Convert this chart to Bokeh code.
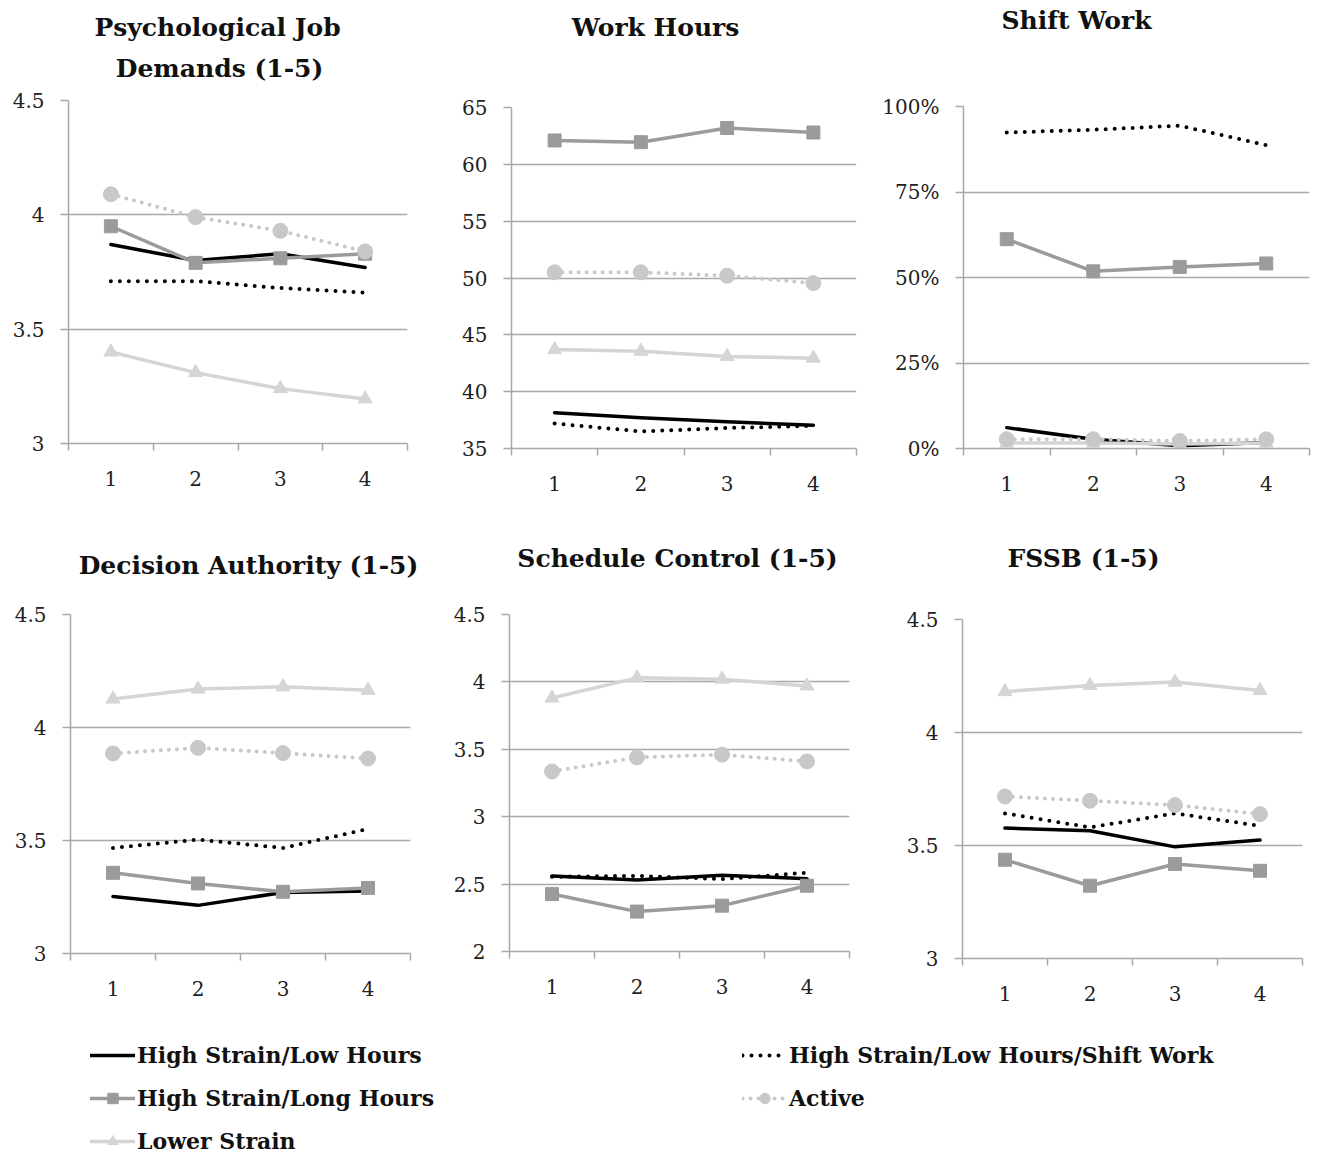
from bokeh.plotting import figure
from bokeh.layouts import column, row
from bokeh.models import (Range1d, FixedTicker, CustomJSTickFormatter, Label,
                          Legend, LegendItem)
from bokeh.embed import file_html
from bokeh.resources import INLINE

# ---------------- data ----------------
waves = [1, 2, 3, 4]
wave_boundaries = [0.5, 1.5, 2.5, 3.5, 4.5]

series_names = ["High Strain/Low Hours", "High Strain/Long Hours", "Lower Strain",
                "High Strain/Low Hours/Shift Work", "Active"]

# Psychological Job Demands (1-5)
pjd_low_hours = [3.87, 3.80, 3.83, 3.77]
pjd_long_hours = [3.95, 3.79, 3.81, 3.83]
pjd_lower_strain = [3.40, 3.31, 3.24, 3.195]
pjd_shift = [3.71, 3.71, 3.68, 3.66]
pjd_active = [4.09, 3.99, 3.93, 3.84]
pjd_ticks = [3, 3.5, 4, 4.5]

# Work Hours
wh_low_hours = [38.15, 37.7, 37.35, 37.05]
wh_long_hours = [62.1, 61.95, 63.2, 62.8]
wh_lower_strain = [43.7, 43.55, 43.1, 42.95]
wh_shift = [37.2, 36.5, 36.8, 37.0]
wh_active = [50.5, 50.5, 50.2, 49.55]
wh_ticks = [35, 40, 45, 50, 55, 60, 65]

# Shift Work (%)
sw_low_hours = [6.1, 2.7, 0.8, 1.75]
sw_long_hours = [61.2, 51.8, 53.1, 54.1]
sw_lower_strain = [1.6, 1.6, 1.3, 1.6]
sw_shift = [92.4, 93.2, 94.4, 88.7]
sw_active = [2.7, 2.7, 2.2, 2.7]
sw_ticks = [0, 25, 50, 75, 100]

# Decision Authority (1-5)
da_low_hours = [3.252, 3.213, 3.27, 3.277]
da_long_hours = [3.357, 3.31, 3.273, 3.29]
da_lower_strain = [4.126, 4.17, 4.18, 4.165]
da_shift = [3.467, 3.504, 3.467, 3.551]
da_active = [3.885, 3.91, 3.887, 3.863]
da_ticks = [3, 3.5, 4, 4.5]

# Schedule Control (1-5)
sc_low_hours = [2.561, 2.53, 2.566, 2.54]
sc_long_hours = [2.426, 2.296, 2.34, 2.488]
sc_lower_strain = [3.88, 4.03, 4.02, 3.97]
sc_shift = [2.554, 2.561, 2.537, 2.585]
sc_active = [3.336, 3.44, 3.46, 3.41]
sc_ticks = [2, 2.5, 3, 3.5, 4, 4.5]

# FSSB (1-5)
fs_low_hours = [3.577, 3.565, 3.494, 3.524]
fs_long_hours = [3.437, 3.322, 3.418, 3.388]
fs_lower_strain = [4.181, 4.208, 4.223, 4.186]
fs_shift = [3.642, 3.58, 3.642, 3.587]
fs_active = [3.717, 3.698, 3.679, 3.639]
fs_ticks = [3, 3.5, 4, 4.5]

# ---------------- styling ----------------
FONT = "DejaVu Serif"
GRID = "#a8a8a8"
TITLE_H = 90
STYLES = [
    dict(color="#000000", width=3.5, dash="solid", marker=None, msize=0),
    dict(color="#9b9b9b", width=3.5, dash="solid", marker="square", msize=13),
    dict(color="#d5d5d5", width=3.5, dash="solid", marker="triangle", msize=14),
    dict(color="#000000", width=4.0, dash="0 9", marker=None, msize=0),
    dict(color="#c8c8c8", width=4.0, dash="0 8", marker="circle", msize=15),
]


def draw_series(p, xs, ys, st):
    rs = [p.line(xs, ys, line_color=st["color"], line_width=st["width"],
                 line_dash=st["dash"], line_cap="round", line_join="round")]
    if st["marker"]:
        rs.append(p.scatter(xs, ys, marker=st["marker"], size=st["msize"],
                            fill_color=st["color"], line_color=st["color"]))
    return rs


def make_title_fig(width, lines):
    # blank strip whose data units equal pixels (y measured downward)
    t = figure(width=width, height=TITLE_H, x_range=Range1d(0, width),
               y_range=Range1d(TITLE_H, 0), toolbar_location=None,
               output_backend="svg", x_axis_location=None, y_axis_location=None,
               min_border=0, title=None)
    t.outline_line_color = None
    t.grid.visible = False
    for txt, tx, ty in lines:
        t.add_layout(Label(text=txt, x=tx, y=ty, text_align="center",
                           text_baseline="middle", text_font=FONT,
                           text_font_size="25px", text_font_style="bold",
                           text_color="#111111"))
    return t


def make_panel(titles, series, yticks, pct, width, height, borders):
    bl, br, bt, bb = borders
    p = figure(width=width, height=height - TITLE_H, x_range=Range1d(0.5, 4.5),
               y_range=Range1d(yticks[0], yticks[-1]), toolbar_location=None,
               output_backend="svg", title=None, min_border_left=bl,
               min_border_right=br, min_border_top=bt - TITLE_H,
               min_border_bottom=bb)
    p.outline_line_color = None
    # x axis
    xa = p.xaxis[0]
    xa.ticker = FixedTicker(ticks=waves, minor_ticks=wave_boundaries)
    xa.major_tick_line_color = None
    xa.major_tick_out = 0
    xa.major_tick_in = 0
    xa.minor_tick_line_color = GRID
    xa.minor_tick_line_width = 1.5
    xa.minor_tick_out = 7
    xa.minor_tick_in = 0
    xa.axis_line_color = GRID
    xa.axis_line_width = 1.5
    xa.major_label_standoff = 20
    xa.major_label_text_font = FONT
    xa.major_label_text_font_size = "20px"
    xa.major_label_text_color = "#222222"
    p.xgrid.grid_line_color = None
    # y axis
    ya = p.yaxis[0]
    ya.ticker = FixedTicker(ticks=yticks)
    if pct:
        ya.formatter = CustomJSTickFormatter(code="return tick.toString() + '%';")
    else:
        ya.formatter = CustomJSTickFormatter(code="return tick.toString();")
    ya.major_tick_line_color = GRID
    ya.major_tick_line_width = 1.5
    ya.major_tick_out = 8
    ya.major_tick_in = 0
    ya.minor_tick_line_color = None
    ya.axis_line_color = GRID
    ya.axis_line_width = 1.5
    ya.major_label_standoff = 16
    ya.major_label_text_font = FONT
    ya.major_label_text_font_size = "20px"
    ya.major_label_text_color = "#222222"
    p.ygrid.ticker = FixedTicker(ticks=yticks)
    p.ygrid.grid_line_color = GRID
    p.ygrid.grid_line_width = 1.5
    for ys, st in zip(series, STYLES):
        draw_series(p, waves, ys, st)
    # wrapping the strip in a row keeps its frame independent of the panel's frame
    return column(row(make_title_fig(width, titles)), row(p))


p1 = make_panel([("Psychological Job", 217, 27), ("Demands (1-5)", 219, 68)],
                [pjd_low_hours, pjd_long_hours, pjd_lower_strain, pjd_shift, pjd_active],
                pjd_ticks, False, 433, 508, (68, 26, 100, 65))
p2 = make_panel([("Work Hours", 222, 27)],
                [wh_low_hours, wh_long_hours, wh_lower_strain, wh_shift, wh_active],
                wh_ticks, False, 430, 508, (78, 7, 107, 60))
p3 = make_panel([("Shift Work", 213, 20)],
                [sw_low_hours, sw_long_hours, sw_lower_strain, sw_shift, sw_active],
                sw_ticks, True, 456, 508, (100, 10, 106, 60))
p4 = make_panel([("Decision Authority (1-5)", 248, 57)],
                [da_low_hours, da_long_hours, da_lower_strain, da_shift, da_active],
                da_ticks, False, 433, 505, (70, 23, 106, 60))
p5 = make_panel([("Schedule Control (1-5)", 244, 50)],
                [sc_low_hours, sc_long_hours, sc_lower_strain, sc_shift, sc_active],
                sc_ticks, False, 430, 505, (76, 14, 106, 62))
p6 = make_panel([("FSSB (1-5)", 220, 50)],
                [fs_low_hours, fs_long_hours, fs_lower_strain, fs_shift, fs_active],
                fs_ticks, False, 456, 505, (99, 17, 111, 55))

# ---------------- legend ----------------
# legend-only figure: its series use the real data but lie outside the visible range
leg = figure(width=1319, height=144, x_range=Range1d(10, 11), y_range=Range1d(0, 1),
             toolbar_location=None, output_backend="svg", x_axis_location=None,
             y_axis_location=None, min_border=0)
leg.outline_line_color = None
leg.grid.visible = False
leg_rs = [draw_series(leg, waves, ys, st) for ys, st in
          zip([pjd_low_hours, pjd_long_hours, pjd_lower_strain, pjd_shift, pjd_active],
              STYLES)]


def make_legend(idx, loc):
    return Legend(items=[LegendItem(label=series_names[i], renderers=leg_rs[i]) for i in idx],
                  location=loc, orientation="vertical", glyph_width=45,
                  glyph_height=26, label_height=26, spacing=17, padding=0, margin=0,
                  border_line_color=None, background_fill_alpha=0,
                  label_standoff=2, label_text_font=FONT,
                  label_text_font_size="22px", label_text_font_style="bold",
                  label_text_color="#111111")


leg.add_layout(make_legend([0, 1, 2], (90, 3)))
leg.add_layout(make_legend([3, 4], (742, 46)))

layout = column(row(p1, p2, p3), row(p4, p5, p6), leg)

open("out.html", "w").write(file_html(layout, INLINE))
